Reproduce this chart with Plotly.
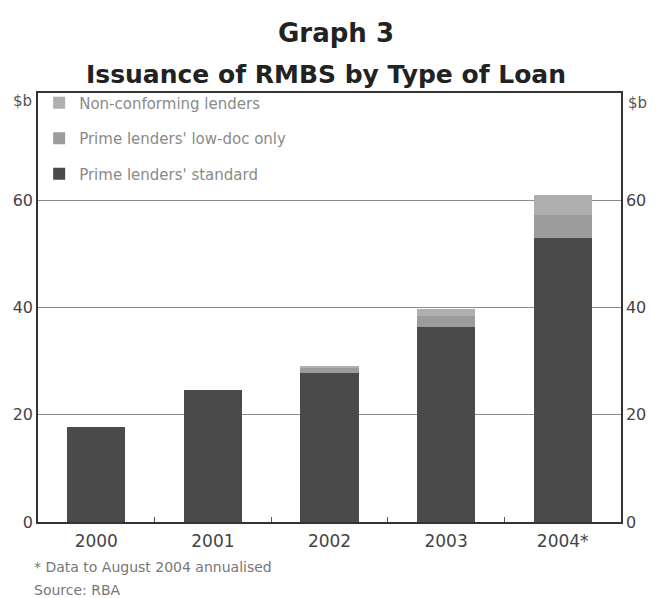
import plotly.graph_objects as go

years = ["2000", "2001", "2002", "2003", "2004*"]
standard = [17.8, 24.6, 27.8, 36.3, 53.0]
low_doc = [0.0, 0.0, 1.0, 2.2, 4.3]
non_conf = [0.0, 0.0, 0.3, 1.3, 3.7]
ytick_vals = [0, 20, 40, 60]

W, H = 658, 598
ML, MR, MT, MB = 38, 33, 93, 76
font_family = "DejaVu Sans, Liberation Sans, Arial, sans-serif"

fig = go.Figure()
fig.add_trace(go.Bar(x=years, y=standard, name="Prime lenders' standard",
                     marker=dict(color="#4a4a4a", line=dict(width=0)),
                     legendgroup="c", legendrank=3))
fig.add_trace(go.Bar(x=years, y=low_doc, name="Prime lenders' low-doc only",
                     marker=dict(color="#9c9c9c", line=dict(width=0)),
                     legendgroup="b", legendrank=2))
fig.add_trace(go.Bar(x=years, y=non_conf, name="Non-conforming lenders",
                     marker=dict(color="#afafaf", line=dict(width=0)),
                     legendgroup="a", legendrank=1))
# invisible trace to anchor right axis
fig.add_trace(go.Scatter(x=years, y=standard, yaxis="y2", mode="markers",
                         marker=dict(opacity=0), showlegend=False, hoverinfo="skip"))

axis_font = dict(family=font_family, size=16, color="#444")

fig.update_layout(
    width=W, height=H,
    margin=dict(l=ML, r=MR, t=MT, b=MB),
    paper_bgcolor="white", plot_bgcolor="white",
    barmode="stack", bargap=0.5,
    font=dict(family=font_family, color="#444"),
    showlegend=True,
    legend=dict(x=0.002, y=1.015, xanchor="left", yanchor="top",
                font=dict(family=font_family, size=15, color="#8a8a8a"),
                bgcolor="rgba(0,0,0,0)", tracegroupgap=13,
                traceorder="grouped", itemwidth=30),
    xaxis=dict(type="category", showline=True, linecolor="#333", linewidth=1.5,
               mirror=True, ticks="inside", tickson="boundaries", ticklen=5,
               tickcolor="#555", tickfont=dict(family=font_family, size=17, color="#444"),
               ticklabelstandoff=3, showgrid=False, range=[-0.5, 4.5]),
    yaxis=dict(range=[0, 80], tickvals=ytick_vals, showline=True, linecolor="#333",
               linewidth=1.5, showgrid=True, gridcolor="#8c8c8c", gridwidth=1,
               ticks="", tickfont=axis_font, zeroline=False),
    yaxis2=dict(range=[0, 80], tickvals=ytick_vals, overlaying="y", side="right",
                showline=True, linecolor="#333", linewidth=1.5, showgrid=False,
                ticks="", tickfont=axis_font, zeroline=False),
)

annots = [
    dict(text="<b>Graph 3</b>", x=338, y=33, size=26, color="#222", xanchor="center"),
    dict(text="<b>Issuance of RMBS by Type of Loan</b>", x=328, y=74, size=25, color="#222", xanchor="center"),
    dict(text="$b", x=22, y=101, size=15, color="#555", xanchor="center"),
    dict(text="$b", x=642, y=103, size=15, color="#555", xanchor="center"),
    dict(text="* Data to August 2004 annualised", x=32, y=567, size=14, color="#777", xanchor="left"),
    dict(text="Source: RBA", x=32, y=590, size=14, color="#777", xanchor="left"),
]
pw, ph = W - ML - MR, H - MT - MB
for a in annots:
    fig.add_annotation(text=a["text"], x=(a["x"] - ML) / pw, y=1 - (a["y"] - MT) / ph,
                       xref="paper", yref="paper", showarrow=False,
                       xanchor=a["xanchor"], yanchor="middle",
                       font=dict(family=font_family, size=a["size"], color=a["color"]))

fig.write_html("out.html")
